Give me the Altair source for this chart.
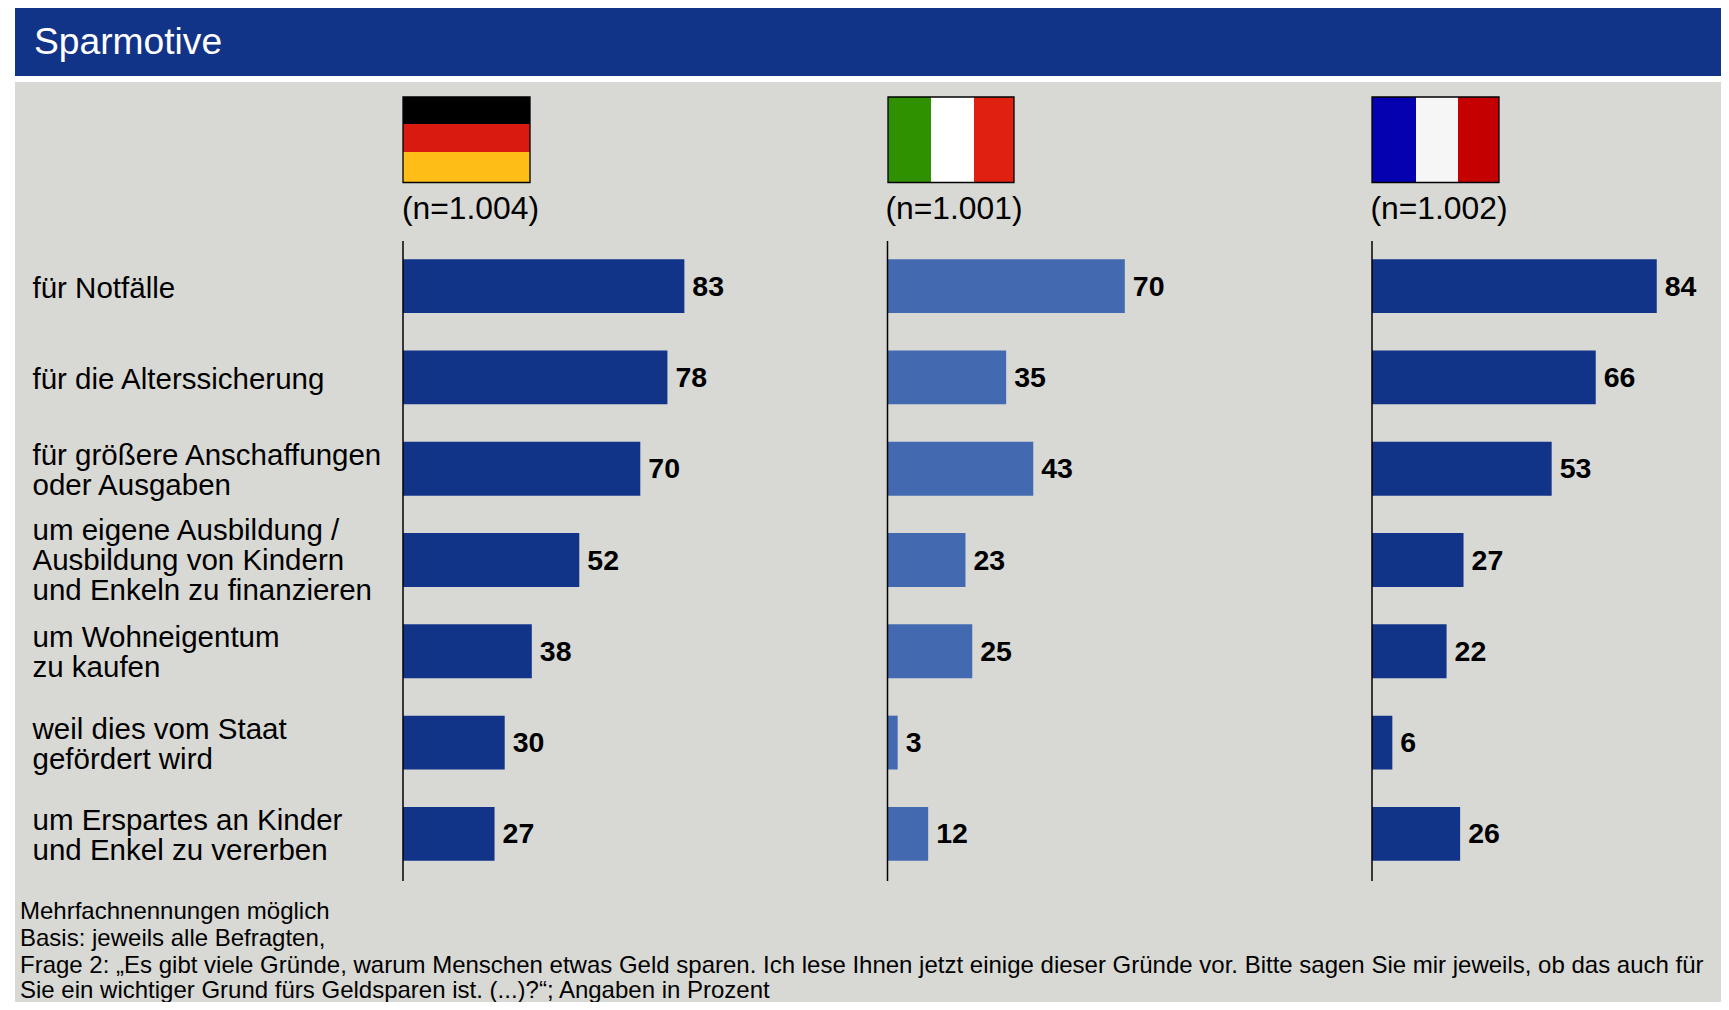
import altair as alt
import pandas as pd

title_text = "Sparmotive"
categories = [
    "für Notfälle",
    "für die Alterssicherung",
    "für größere Anschaffungen\noder Ausgaben",
    "um eigene Ausbildung /\nAusbildung von Kindern\nund Enkeln zu finanzieren",
    "um Wohneigentum\nzu kaufen",
    "weil dies vom Staat\ngefördert wird",
    "um Erspartes an Kinder\nund Enkel zu vererben",
]
germany = [83, 78, 70, 52, 38, 30, 27]
italy = [70, 35, 43, 23, 25, 3, 12]
france = [84, 66, 53, 27, 22, 6, 26]
sample_sizes = ["(n=1.004)", "(n=1.001)", "(n=1.002)"]
footnotes = [
    "Mehrfachnennungen möglich",
    "Basis: jeweils alle Befragten,",
    "Frage 2: „Es gibt viele Gründe, warum Menschen etwas Geld sparen. Ich lese Ihnen jetzt einige dieser Gründe vor. Bitte sagen Sie mir jeweils, ob das auch für",
    "Sie ein wichtiger Grund fürs Geldsparen ist. (...)?“; Angaben in Prozent",
]

FONT = "Liberation Sans"
DARK = "#123488"
LIGHT = "#436AB1"
GREY = "#D8D9D5"
OX = 8  # page margin
OY = 8
W, H = 1713, 994
ORIGINS = [403, 887.5, 1372]
PX_PER_UNIT = 3.39
ROW_TOP, ROW_BOTTOM = 240.5, 879.5
one = alt.Data(values=[{}])


def px(v):
    return alt.value(v - OX)


def py(v):
    return alt.value(v - OY)


def box(x0, x1, y0, y1, color, **kw):
    return alt.Chart(one).mark_rect(color=color, **kw).encode(
        x=px(x0), x2=px(x1), y=py(y0), y2=py(y1))


def label(text, x, y, size, color="black", **kw):
    return alt.Chart(one).mark_text(
        align="left", baseline="middle", font=FONT, fontSize=size, color=color, **kw
    ).encode(x=px(x), y=py(y), text=alt.value(text))


y_enc = alt.Y(
    "cat:N",
    sort=categories,
    axis=None,
    scale=alt.Scale(
        domain=categories,
        range=[ROW_TOP - OY, ROW_BOTTOM - OY],
        paddingInner=0.41,
        paddingOuter=0.205,
    ),
)

layers = [
    box(15, 1721, 82, 1002, GREY),
    box(15, 1721, 8, 76, DARK),
    label(title_text, 34, 43, 37.2, "white"),
]

# Flags
flags = [
    [(403, 530, 97, 124, "#000000"), (403, 530, 124, 152, "#D81A10"), (403, 530, 152, 182.5, "#FFBD18")],
    [(888, 931, 97, 182.5, "#2F9100"), (931, 974, 97, 182.5, "#FFFFFF"), (974, 1014, 97, 182.5, "#E1210F")],
    [(1372, 1416, 97, 182.5, "#0500B0"), (1416, 1458, 97, 182.5, "#F6F6F6"), (1458, 1499, 97, 182.5, "#C40000")],
]
for flag in flags:
    for x0, x1, y0, y1, c in flag:
        layers.append(box(x0, x1, y0, y1, c))
    layers.append(
        box(flag[0][0], flag[-1][1], flag[0][2], flag[-1][3], "transparent",
            stroke="black", strokeWidth=1.3, fillOpacity=0)
    )

for text, x in zip(sample_sizes, [402, 885.5, 1370.5]):
    layers.append(label(text, x, 209, 31.8))

# Row labels: Vega anchors the first line, so shift by line count to centre the block
for n_lines, dy in [(1, 3), (2, -13), (3, -29)]:
    subset = [c for c in categories if c.count("\n") + 1 == n_lines]
    layers.append(
        alt.Chart(pd.DataFrame({"cat": subset})).mark_text(
            align="left", baseline="middle", font=FONT, fontSize=29.5,
            lineHeight=30, lineBreak="\n", color="black", dy=dy
        ).encode(x=px(32.5), y=y_enc, text="cat:N")
    )

# Bars and values
for values, x0, color in zip([germany, italy, france], ORIGINS, [DARK, LIGHT, DARK]):
    df = pd.DataFrame({"cat": categories, "v": values})
    x_enc = alt.X(
        "v:Q",
        axis=None,
        scale=alt.Scale(
            domain=[0, 100],
            range=[x0 - OX, x0 - OX + PX_PER_UNIT * 100],
        ),
    )
    layers.append(alt.Chart(df).mark_bar(color=color).encode(x=x_enc, y=y_enc))
    layers.append(
        alt.Chart(df).mark_text(
            align="left", baseline="middle", font=FONT, fontSize=28.5,
            fontWeight="bold", color="black", dx=8, dy=0.5
        ).encode(x=x_enc, y=y_enc, text="v:Q")
    )
    layers.append(
        alt.Chart(one).mark_rule(color="black", strokeWidth=1.5).encode(
            x=px(x0), y=py(241), y2=py(881))
    )

for text, y in zip(footnotes, [912, 939, 966, 991]):
    layers.append(label(text, 20, y, 24))

chart = (
    alt.layer(*layers)
    .resolve_scale(x="independent")
    .properties(
        width=W,
        height=H,
        padding=0,
        autosize=alt.AutoSizeParams(type="none"),
        background="white",
    )
    .configure_view(stroke="transparent")
)

chart.save("out.html", embed_options={"renderer": "svg", "actions": False})
